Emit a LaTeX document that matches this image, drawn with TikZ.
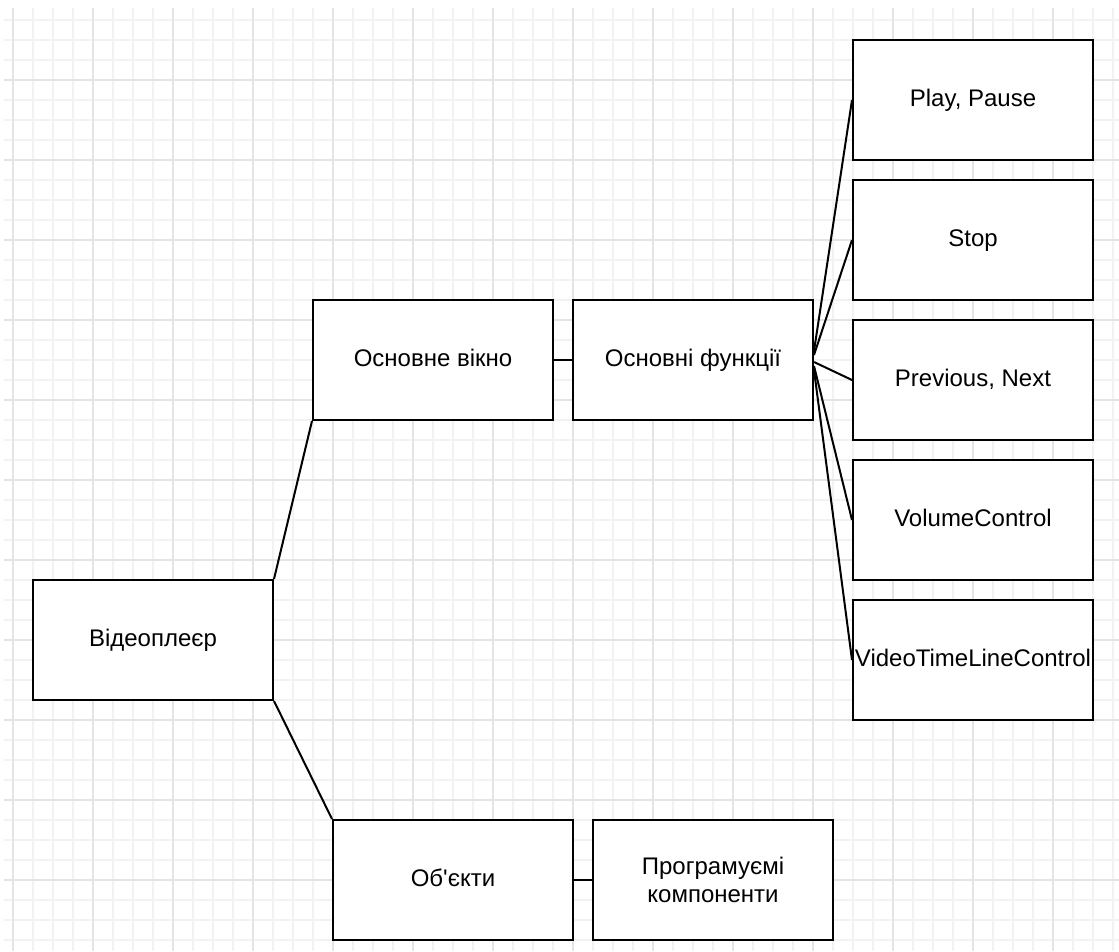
\documentclass[tikz,border=0pt]{standalone}
\usepackage{fontspec}
\setmainfont{Liberation Sans}
\definecolor{gridminor}{HTML}{F2F2F2}
\definecolor{gridmajor}{HTML}{E4E4E4}
\tikzset{
  box/.style={draw=black, line width=2pt, fill=white, rectangle, minimum width=240pt, minimum height=120pt, inner sep=0pt, align=center, font=\fontsize{24}{28}\selectfont},
  oneline/.style={box, text height=17pt, text depth=5pt},
  link/.style={draw=black, line width=2pt},
  gminor/.style={draw=gridminor, line width=2pt},
  gmajor/.style={draw=gridmajor, line width=2pt}
}
\begin{document}
\begin{tikzpicture}[x=1pt, y=-1pt]
\useasboundingbox (0,0) rectangle (1119,951);
\fill[white] (0,0) rectangle (1119,951);
% grid
\foreach \x in {13,33,...,1113} \draw[gminor] (\x,8) -- (\x,951);
\foreach \y in {20,40,...,940} \draw[gminor] (4,\y) -- (1119,\y);
\foreach \x in {13,93,...,1053} \draw[gmajor] (\x,8) -- (\x,951);
\foreach \y in {80,160,...,880} \draw[gmajor] (4,\y) -- (1119,\y);
% nodes
\node[oneline] (vp) at (153,640) {Відеоплеєр};
\node[oneline] (win) at (433,360) {Основне вікно};
\node[oneline] (fn) at (693,360) {Основні функції};
\node[oneline] (obj) at (453,880) {Об\textquotesingle єкти};
\node[box] (prog) at (713,880) {Програмуємі\\компоненти};
\node[oneline] (play) at (973,100) {Play, Pause};
\node[oneline] (stop) at (973,240) {Stop};
\node[oneline] (prev) at (973,380) {Previous, Next};
\node[oneline] (vol) at (973,520) {VolumeControl};
\node[oneline] (vid) at (973,660) {VideoTimeLineControl};
% connectors
\draw[link] (vp.north east) -- (win.south west);
\draw[link] (vp.south east) -- (obj.north west);
\draw[link] (win.east) -- (fn.west);
\draw[link] (obj.east) -- (prog.west);
\draw[link] ([yshift=9pt]fn.east) -- (play.west);
\draw[link] ([yshift=5pt]fn.east) -- (stop.west);
\draw[link] ([yshift=-2pt]fn.east) -- (prev.west);
\draw[link] ([yshift=-6pt]fn.east) -- (vol.west);
\draw[link] ([yshift=-10pt]fn.east) -- (vid.west);
\end{tikzpicture}
\end{document}
